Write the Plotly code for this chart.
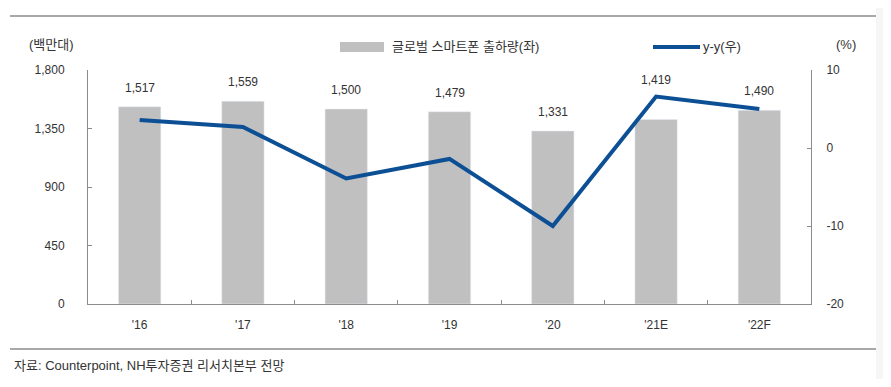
import plotly.graph_objects as go

categories = ["'16", "'17", "'18", "'19", "'20", "'21E", "'22F"]
shipments = [1517, 1559, 1500, 1479, 1331, 1419, 1490]
yoy = [3.6, 2.7, -3.9, -1.4, -10.0, 6.6, 5.0]
left_ticks = [0, 450, 900, 1350, 1800]
right_ticks = [-20, -10, 0, 10]
right_tick_labels = ["-20", "-10", "0", "10"]

# page body has an 8px margin; figure sized to fit inside the window
OFF = 8
W, H = 891 - 2 * OFF, 387 - 2 * OFF
L, R, T, B = 88, 811, 70, 304  # plot area in screen px

def px(x):
    return (x - L) / (R - L)

def py(y):
    return (B - y) / (B - T)

FONT = "Liberation Sans, Arial, Noto Sans CJK KR, sans-serif"
TXT = "#333333"
AX = "#8c8c8c"
BAR = "#c0c0c0"
LINE = "#0c4f95"

fig = go.Figure()
fig.add_trace(go.Bar(x=categories, y=shipments, marker_color=BAR, width=0.41,
                     name="글로벌 스마트폰 출하량(좌)", yaxis="y", showlegend=False))
fig.add_trace(go.Scatter(x=categories, y=yoy, mode="lines", line=dict(color=LINE, width=4),
                         name="y-y(우)", yaxis="y2", showlegend=False))

label_shift = {"'21E": 40}
for c, v in zip(categories, shipments):
    fig.add_annotation(x=c, y=v, xref="x", yref="y", text=f"{v:,}", showarrow=False,
                       yshift=label_shift.get(c, 19), font=dict(family=FONT, size=12, color=TXT))

shapes = [
    dict(type="rect", xref="paper", yref="paper", x0=px(5), x1=px(876), y0=py(383), y1=py(5),
         fillcolor="white", line=dict(width=0), layer="below"),
    dict(type="line", xref="paper", yref="paper", x0=px(10), x1=px(876), y0=py(16), y1=py(16),
         line=dict(color="#a8a8a8", width=2)),
    dict(type="line", xref="paper", yref="paper", x0=px(10), x1=px(876), y0=py(349), y1=py(349),
         line=dict(color="#a8a8a8", width=2)),
    dict(type="rect", xref="paper", yref="paper", x0=px(340), x1=px(384), y0=py(52), y1=py(42),
         fillcolor=BAR, line=dict(width=0)),
    dict(type="line", xref="paper", yref="paper", x0=px(653), x1=px(700), y0=py(47), y1=py(47),
         line=dict(color=LINE, width=4)),
]

annots = [
    dict(text="글로벌 스마트폰 출하량(좌)", x=px(390), y=py(47), xanchor="left"),
    dict(text="y-y(우)", x=px(701), y=py(47), xanchor="left"),
    dict(text="(백만대)", x=px(27), y=py(45), xanchor="left"),
    dict(text="(%)", x=px(834), y=py(45), xanchor="left"),
    dict(text="자료: Counterpoint, NH투자증권 리서치본부 전망", x=px(12), y=py(365), xanchor="left"),
]
for a in annots:
    fig.add_annotation(xref="paper", yref="paper", showarrow=False, yanchor="middle",
                       font=dict(family=FONT, size=13, color=TXT), **a)

fig.update_layout(
    width=W, height=H,
    margin=dict(l=L - OFF, r=W - (R - OFF), t=T - OFF, b=H - (B - OFF), pad=0),
    paper_bgcolor="#f6f6f6", plot_bgcolor="white",
    font=dict(family=FONT, size=12, color=TXT),
    bargap=0.59,
    shapes=shapes,
    xaxis=dict(type="category", showline=True, linecolor=AX, linewidth=1, ticks="inside",
               tickson="boundaries", ticklen=4, tickcolor=AX, showgrid=False,
               ticklabelstandoff=10, tickfont=dict(size=12, color=TXT)),
    yaxis=dict(range=[0, 1800], tickvals=left_ticks, tickformat=",", showline=True, linecolor=AX,
               linewidth=1, ticks="inside", ticklen=4, tickcolor=AX, showgrid=False, zeroline=False,
               ticklabelstandoff=20, tickfont=dict(size=12, color=TXT)),
    yaxis2=dict(range=[-20, 10], tickvals=right_ticks, ticktext=right_tick_labels, overlaying="y",
                side="right", showline=True, linecolor=AX, linewidth=1, ticks="inside", ticklen=4,
                tickcolor=AX, showgrid=False, zeroline=False, ticklabelstandoff=12,
                tickfont=dict(size=12, color=TXT)),
)

fig.write_html("out.html")
